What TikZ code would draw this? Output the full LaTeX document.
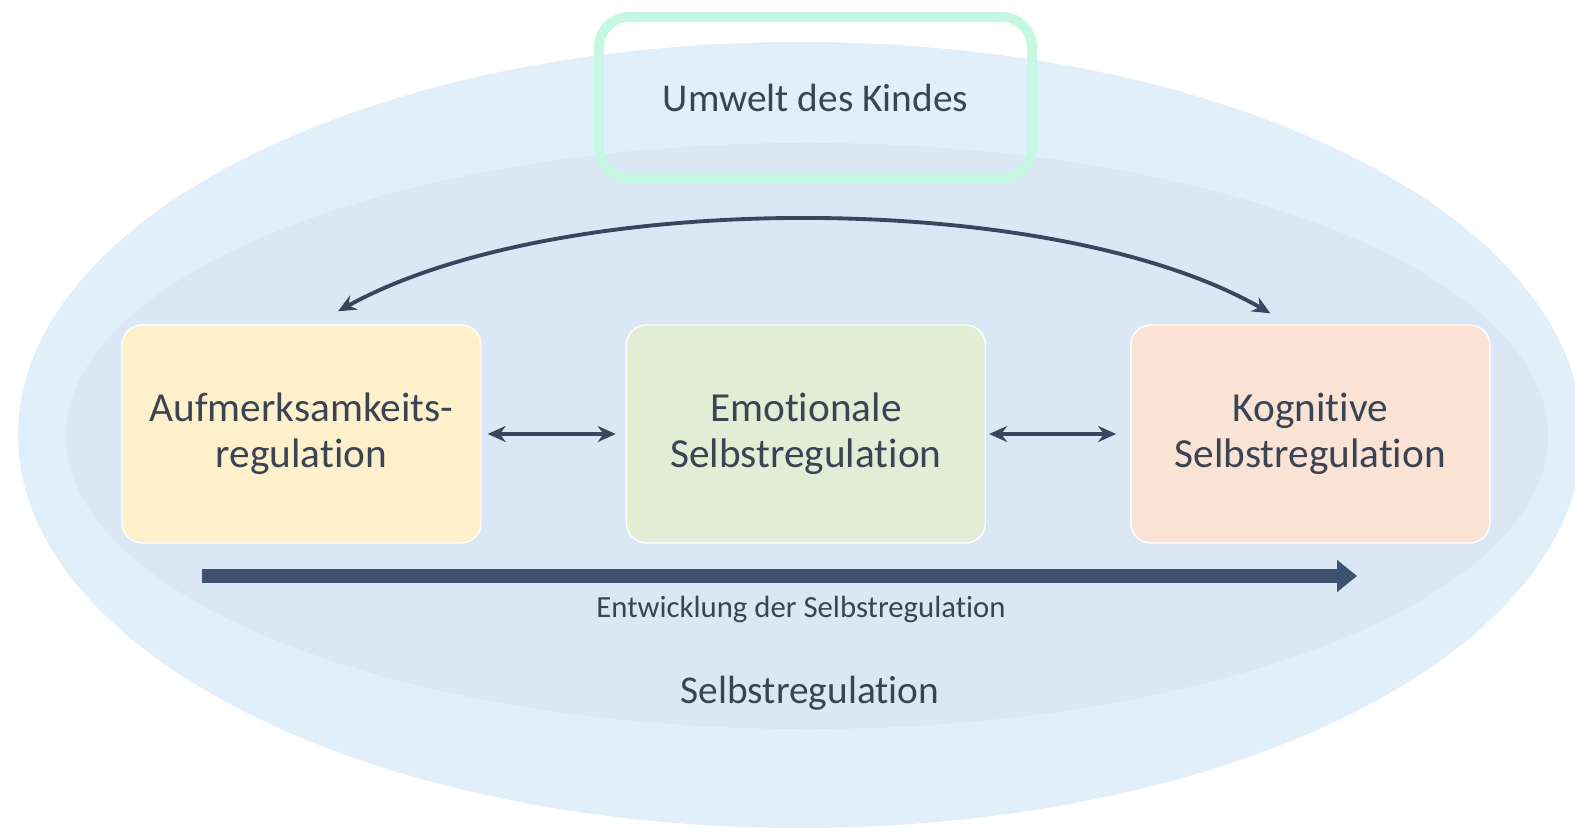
\documentclass[tikz,border=0pt]{standalone}
\usepackage{fontspec}
\setmainfont{Carlito}[Ligatures=NoCommon]
\usetikzlibrary{arrows.meta, positioning, calc}
\definecolor{outercolor}{RGB}{224, 239, 249}
\definecolor{innercolor}{RGB}{219, 231, 245}
\definecolor{envcolor}{RGB}{198, 247, 226}
\definecolor{attcolor}{RGB}{255, 240, 204}
\definecolor{emocolor}{RGB}{226, 237, 214}
\definecolor{kogcolor}{RGB}{250, 227, 213}
\definecolor{labelcolor}{RGB}{58, 68, 84}
\definecolor{arrowcolor}{RGB}{56, 71, 93}
\definecolor{devcolor}{RGB}{62, 82, 112}
\tikzset{
    % Base styles
    basenode/.style={
        draw=white, line width=0.8pt, align=center, text=labelcolor,
        font=\fontsize{23.5}{26}\selectfont,
        minimum width=7.18cm, minimum height=4.36cm,
        rounded corners=0.4cm
    },
    % Regulation boxes
    attnode/.style={basenode, fill=attcolor},
    emonode/.style={basenode, fill=emocolor},
    kognode/.style={basenode, fill=kogcolor},
    % Environment frame
    envnode/.style={
        draw=envcolor, line width=0.2cm, rounded corners=0.6cm,
        minimum width=8.66cm, minimum height=3.22cm,
        text=labelcolor, font=\fontsize{22.4}{26}\selectfont
    },
    % Arrows
    myarrow/.style={{Stealth[length=3.6mm, width=3.2mm]}-{Stealth[length=3.6mm, width=3.2mm]}, line width=2.2pt, arrowcolor},
    devarrow/.style={-{Triangle[length=0.4cm, width=0.62cm]}, line width=0.28cm, devcolor},
    % Labels
    biglabel/.style={text=labelcolor, font=\fontsize{22.4}{26}\selectfont},
    devlabel/.style={text=labelcolor, font=\fontsize{17.5}{20}\selectfont},
}
\begin{document}
\begin{tikzpicture}

\useasboundingbox (0,0) rectangle (31.5,-16.64);

% ===== Background ellipses =====
\fill[outercolor] (16.0,-8.7) ellipse [x radius=15.64, y radius=7.86];
\fill[innercolor] (16.14,-8.72) ellipse [x radius=14.82, y radius=5.86];

% ===== Environment =====
\node (env) [envnode] at (16.31,-1.95) {Umwelt des Kindes};

% ===== Regulation boxes =====
\node (att) [attnode] at (6.03,-8.68) {Aufmerksamkeits-\\regulation};
\node (emo) [emonode, right=2.88cm of att] {Emotionale\\Selbstregulation};
\node (kog) [kognode, right=2.88cm of emo] {Kognitive\\Selbstregulation};

\draw[myarrow, shorten <=0.12cm, shorten >=0.2cm] (att) -- (emo);
\draw[myarrow, shorten <=0.06cm, shorten >=0.28cm] (emo) -- (kog);

% Arc between attention and cognition
\draw[myarrow] ([xshift=-0.8cm, yshift=0.22cm]kog.north)
    .. controls +(-4.36,2.5) and +(4.44,2.46) ..
    ([xshift=0.73cm, yshift=0.26cm]att.north);

% ===== Development =====
\coordinate (devstart) at (4.04,-11.52);
\coordinate (devend) at (27.14,-11.52);
\draw[devarrow] (devstart) -- (devend);
\node (devtext) [devlabel] at (16.02,-12.18) {Entwicklung der Selbstregulation};

\node (selbst) [biglabel] at (16.2,-13.86) {Selbstregulation};

\end{tikzpicture}
\end{document}
